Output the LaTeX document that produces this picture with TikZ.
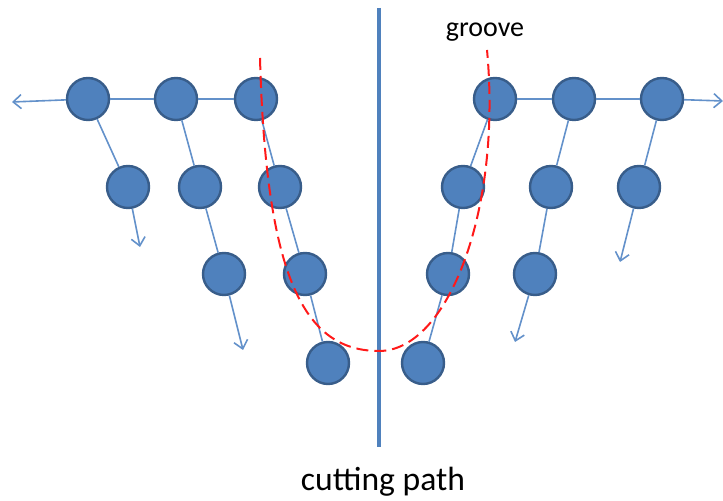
\documentclass[tikz,border=0pt]{standalone}
\usepackage{fontspec}
\setmainfont{Carlito}
\usetikzlibrary{arrows.meta}

\definecolor{atomfill}{HTML}{4F81BD}
\definecolor{atomline}{HTML}{385D8A}
\definecolor{bondblue}{HTML}{6391CA}

\begin{document}
\begin{tikzpicture}[x=0.5pt,y=-0.5pt,>={Straight Barb[length=4pt,width=7pt]},
  atom/.style={circle,draw=atomline,fill=atomfill,line width=1.2pt,minimum size=21pt,inner sep=0pt},
  every edge/.append style={draw=bondblue,line width=0.8pt}]
\useasboundingbox (0,0) rectangle (723,501);

% cutting path
\draw[atomfill,line width=2pt] (379,8) -- (379,447);

% left block
\node[atom] (la1) at (88,99) {};
\node[atom] (la2) at (176,99) {};
\node[atom] (la3) at (256,99) {};
\node[atom] (lb1) at (128,187) {};
\node[atom] (lb2) at (200,187) {};
\node[atom] (lb3) at (280,187) {};
\node[atom] (lc2) at (224,274) {};
\node[atom] (lc3) at (305,274) {};
\node[atom] (ld3) at (328,363) {};
\coordinate (lout) at (12,102);
\coordinate (lend1) at (140,247);
\coordinate (lend2) at (243,350);

% right block
\node[atom] (ra1) at (495,99) {};
\node[atom] (ra2) at (574,99) {};
\node[atom] (ra3) at (662,99) {};
\node[atom] (rb1) at (463,187) {};
\node[atom] (rb2) at (551,187) {};
\node[atom] (rb3) at (639,187) {};
\node[atom] (rc1) at (448,274) {};
\node[atom] (rc2) at (535,274) {};
\node[atom] (rd1) at (423,363) {};
\coordinate (rout) at (723,101);
\coordinate (rend2) at (515,342);
\coordinate (rend3) at (620,262);

% bonds, left
\path (la1) edge[->] (lout)
  (la1) edge (la2) (la2) edge (la3)
  (la1) edge (lb1) (lb1) edge[->] (lend1)
  (la2) edge (lb2) (lb2) edge (lc2) (lc2) edge[->] (lend2)
  (la3) edge (lb3) (lb3) edge (lc3) (lc3) edge (ld3);

% bonds, right
\path (ra3) edge[->] (rout)
  (ra1) edge (ra2) (ra2) edge (ra3)
  (ra3) edge (rb3) (rb3) edge[->] (rend3)
  (ra2) edge (rb2) (rb2) edge (rc2) (rc2) edge[->] (rend2)
  (ra1) edge (rb1) (rb1) edge (rc1) (rc1) edge (rd1);

% groove
\draw[red!90!white,line width=1pt,dash pattern=on 6pt off 3pt]
  (260,58) .. controls (266,280) and (305,351) .. (379,351)
  .. controls (448,351) and (502,210) .. (487,50);

\node (groove) at (485,32) {\fontsize{14}{16}\selectfont groove};
\node (cut) at (383,482) {\fontsize{16.8}{20}\selectfont cutting path};
\end{tikzpicture}
\end{document}
